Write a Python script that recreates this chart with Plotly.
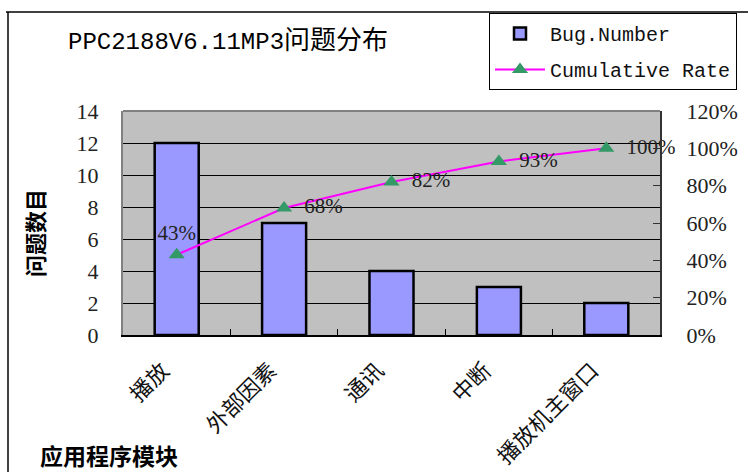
import plotly.graph_objects as go

categories = ["播放", "外部因素", "通讯", "中断", "播放机主窗口"]
bug_numbers = [12, 7, 4, 3, 2]
cumulative_rate = [43, 68, 82, 93, 100]
rate_labels = ["43%", "68%", "82%", "93%", "100%"]
left_ticks = [0, 2, 4, 6, 8, 10, 12, 14]
right_ticks = [0, 20, 40, 60, 80, 100, 120]
right_tick_labels = ["0%", "20%", "40%", "60%", "80%", "100%", "120%"]
label_positions = ["top center", "middle right", "middle right", "middle right", "middle right"]
label_templates = ["%{text}", "  %{text}", "  %{text}", "  %{text}", "  %{text}"]

W, H = 748, 472
L, R, T, B = 123, 88, 111, 137
PW, PH = W - L - R, H - T - B


def px(x):
    return (x - L) / PW


def py(y):
    return (H - B - y) / PH


serif = "Liberation Serif, Times New Roman, serif"
cjk = "Noto Sans CJK SC, sans-serif"
mono = "Liberation Mono, Noto Sans CJK SC, monospace"

fig = go.Figure()
fig.add_trace(go.Bar(
    x=categories, y=bug_numbers, name="Bug.Number", width=0.41,
    legendgroup="a",
    marker=dict(color="#9999FF", line=dict(color="black", width=2.5)),
))
fig.add_trace(go.Scatter(
    x=categories, y=cumulative_rate, name="Cumulative Rate", yaxis="y2",
    legendgroup="b",
    mode="lines+markers+text", text=rate_labels, textposition=label_positions,
    texttemplate=label_templates,
    textfont=dict(family=serif, size=21, color="#222222"),
    line=dict(color="#FF00FF", width=2),
    marker=dict(symbol="triangle-up", size=14, color="#339966"),
    cliponaxis=False,
))

fig.update_layout(
    width=W, height=H,
    margin=dict(l=L, r=R, t=T, b=B, autoexpand=False),
    paper_bgcolor="white", plot_bgcolor="#C0C0C0",
    showlegend=True,
    legend=dict(
        x=px(489), y=py(13), xanchor="left", yanchor="top",
        bordercolor="black", borderwidth=1, bgcolor="white",
        font=dict(family=mono, size=20, color="#111111"),
        itemwidth=50, tracegroupgap=7,
    ),
    xaxis=dict(
        type="category", range=[-0.5, 4.5], automargin=False,
        ticks="inside", tickson="boundaries", ticklen=6, tickcolor="black",
        showline=True, linecolor="black", linewidth=2,
        tickangle=-45, tickfont=dict(family=cjk, size=22, color="#111111"),
        showgrid=False, ticklabelstandoff=12, ticklabelshift=-14,
    ),
    yaxis=dict(
        range=[0, 14], tickvals=left_ticks, automargin=False,
        showgrid=True, gridcolor="black", gridwidth=1,
        showline=True, linecolor="#808080", linewidth=2,
        ticks="", zeroline=False,
        tickfont=dict(family=serif, size=22, color="#222222"),
        ticklabelstandoff=18,
    ),
    yaxis2=dict(
        overlaying="y", side="right", range=[0, 120], automargin=False,
        tickvals=right_ticks, ticktext=right_tick_labels,
        ticks="inside", ticklen=7, tickcolor="#333333",
        showline=True, linecolor="#333333", linewidth=2,
        showgrid=False, zeroline=False,
        tickfont=dict(family=serif, size=22, color="#222222"),
        ticklabelstandoff=20,
    ),
    annotations=[
        dict(text="PPC2188V6.11MP3<span style='font-family:Noto Sans CJK SC;font-size:26px'>问题分布</span>",
             x=px(66), y=py(37), xref="paper", yref="paper",
             xanchor="left", yanchor="middle", showarrow=False,
             font=dict(family=mono, size=24, color="black")),
        dict(text="问题数目", textangle=-90,
             x=px(34), y=py(233), xref="paper", yref="paper",
             xanchor="center", yanchor="middle", showarrow=False,
             font=dict(family=cjk, size=22, color="black", weight="bold")),
        dict(text="应用程序模块",
             x=px(38), y=py(455), xref="paper", yref="paper",
             xanchor="left", yanchor="middle", showarrow=False,
             font=dict(family=cjk, size=23, color="black", weight="bold")),
    ],
    shapes=[
        dict(type="line", xref="paper", yref="paper",
             x0=px(6), x1=px(748), y0=py(12), y1=py(12),
             line=dict(color="black", width=1.5)),
        dict(type="line", xref="paper", yref="paper",
             x0=px(8), x1=px(8), y0=py(12), y1=py(480),
             line=dict(color="black", width=1.5)),
        dict(type="line", xref="paper", yref="paper",
             x0=0, x1=1, y0=1, y1=1,
             line=dict(color="#808080", width=2), layer="above"),
    ],
)

fig.write_html("out.html", config={"displayModeBar": False},
               post_script="document.body.style.margin='0';")
